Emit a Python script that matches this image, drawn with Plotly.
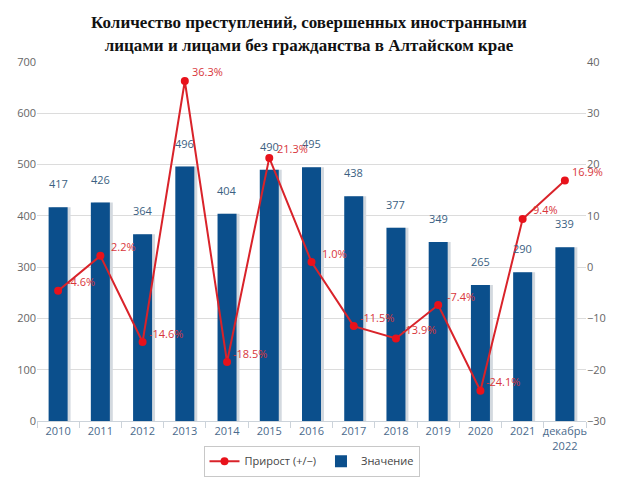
import plotly.graph_objects as go

categories = ["2010", "2011", "2012", "2013", "2014", "2015", "2016", "2017",
              "2018", "2019", "2020", "2021", "декабрь<br>2022"]
values = [417, 426, 364, 496, 404, 490, 495, 438, 377, 349, 265, 290, 339]
growth = [-4.6, 2.2, -14.6, 36.3, -18.5, 21.3, 1.0, -11.5, -13.9, -7.4, -24.1, 9.4, 16.9]

BAR = "#0b4f8c"
RED = "#d9232a"
FONT = "Open Sans"

fig = go.Figure()

# shadow behind bars
fig.add_trace(go.Bar(
    x=categories, y=values, width=0.45, offset=-0.225 + 0.07,
    marker=dict(color="#d3d9df", line=dict(width=0)),
    showlegend=False, hoverinfo="skip"))

fig.add_trace(go.Bar(
    x=categories, y=values, width=0.45, offset=-0.225,
    marker=dict(color=BAR, line=dict(width=0)),
    name="Значение", legendrank=2))

fig.add_trace(go.Scatter(
    x=categories, y=growth, yaxis="y2", mode="lines+markers",
    line=dict(color=RED, width=2),
    marker=dict(color="#e8121b", size=8),
    name="Прирост (+/−)", legendrank=1))

annotations = []
for i, v in enumerate(values):
    annotations.append(dict(x=i, y=v, xref="x", yref="y", text=str(v),
                            showarrow=False, yanchor="bottom", yshift=14,
                            font=dict(family=FONT, size=11, color="#3b5f82")))
for i, g in enumerate(growth):
    annotations.append(dict(x=i, y=g, xref="x", yref="y2", text=f"{g:.1f}%",
                            showarrow=False, xanchor="center", yanchor="middle",
                            xshift=23, yshift=9,
                            font=dict(family=FONT, size=11, color="#d8363b")))

fig.update_layout(
    width=618, height=482,
    margin=dict(l=37, r=32, t=62, b=61, autoexpand=False),
    paper_bgcolor="white", plot_bgcolor="white",
    barmode="overlay",
    font=dict(family=FONT, size=11, color="#555"),
    title=dict(text="<b>Количество преступлений, совершенных иностранными<br>лицами и лицами без гражданства в Алтайском крае</b>",
               x=0.5, xanchor="center", y=0.941, yanchor="middle",
               font=dict(family="Liberation Serif", size=17, color="#111")),
    xaxis=dict(type="category", showgrid=False, showline=True, linecolor="#ccd3da",
               ticks="outside", tickson="boundaries", ticklen=6, tickcolor="#ccd3da",
               tickangle=0, automargin=False,
               tickfont=dict(family=FONT, size=11, color="#4a6a8c"),
               range=[-0.5, 12.5]),
    yaxis=dict(range=[0, 700], dtick=100, showgrid=True, gridcolor="#dcdcdc",
               gridwidth=1, zeroline=False, showline=False, automargin=False,
               tickfont=dict(family=FONT, size=11, color="#666")),
    yaxis2=dict(range=[-30, 40], dtick=10, overlaying="y", side="right",
                showgrid=False, zeroline=False, showline=False, automargin=False,
                tickfont=dict(family=FONT, size=11, color="#666")),
    legend=dict(orientation="h", x=0.5, xanchor="center", y=-0.155, yanchor="bottom",
                bordercolor="#c8c8c8", borderwidth=1,
                font=dict(family=FONT, size=11, color="#444"),
                itemwidth=30, tracegroupgap=0),
    annotations=annotations,
)

fig.write_html("out.html")
